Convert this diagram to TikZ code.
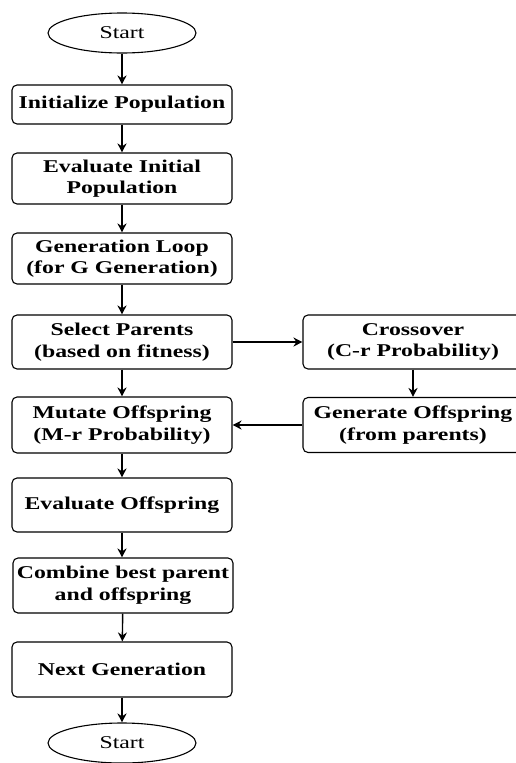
\documentclass[tikz,border=0pt]{standalone}
\usepackage{fontspec}
\setmainfont{Liberation Serif}[FakeStretch=1.32]
\usetikzlibrary{arrows.meta}
\usetikzlibrary{shapes.geometric}

\begin{document}
\begin{tikzpicture}[x=1pt,y=-1pt]

	\useasboundingbox (0,0) rectangle (515,763);
	
	\tikzset{stage/.style=
		{draw,rounded corners=5pt,line width=1.1pt,minimum width=220pt,
			inner xsep=2pt,align=center,font=\fontsize{18}{21.6}\selectfont\bfseries}}
	\tikzset{terminal/.style=
		{draw,ellipse,line width=1.1pt,minimum width=148pt,minimum height=40pt,
			inner sep=0pt,font=\fontsize{18}{21.6}\selectfont}}
	\tikzset{flow/.style={line width=1.4pt,-{Stealth[length=9pt,width=9pt]}}}
	
	\node[terminal] (begin) at (122,33) {Start};
	\node[stage,minimum height=39pt] (init) at (122,104.5) {Initialize Population};
	\node[stage,minimum height=51pt] (evalinit) at (122,178.5) {Evaluate Initial\\Population};
	\node[stage,minimum height=51pt] (genloop) at (122,258.5) {Generation Loop\\(for G Generation)};
	\node[stage,minimum height=54pt] (select) at (122,342) {Select Parents\\(based on fitness)};
	\node[stage,minimum height=56pt] (mutate) at (122,425) {Mutate Offspring\\(M-r Probability)};
	\node[stage,minimum height=54pt] (evaloff) at (122,505) {Evaluate Offspring};
	\node[stage,minimum height=55pt] (combine) at (123,585.5) {Combine best parent\\and offspring};
	\node[stage,minimum height=55pt] (nextgen) at (122,669.5) {Next Generation};
	\node[terminal] (finish) at (122,743) {Start};
	
	\node[stage,minimum height=54pt] (cross) at (413,342) {Crossover\\(C-r Probability)};
	\node[stage,minimum height=55pt] (genoff) at (413,425) {Generate Offspring\\(from parents)};
	
	\draw[flow] (begin) -- (init);
	\draw[flow] (init) -- (evalinit);
	\draw[flow] (evalinit) -- (genloop);
	\draw[flow] (genloop) -- (select);
	\draw[flow] (select) -- (mutate);
	\draw[flow] (select) -- (cross);
	\draw[flow] (cross) -- (genoff);
	\draw[flow] (genoff) -- (mutate);
	\draw[flow] (mutate) -- (evaloff);
	\draw[flow] (evaloff.south) -- (combine.north -| evaloff.south);
	\draw[flow] (combine) -- (nextgen);
	\draw[flow] (nextgen) -- (finish);
\end{tikzpicture}
\end{document}
